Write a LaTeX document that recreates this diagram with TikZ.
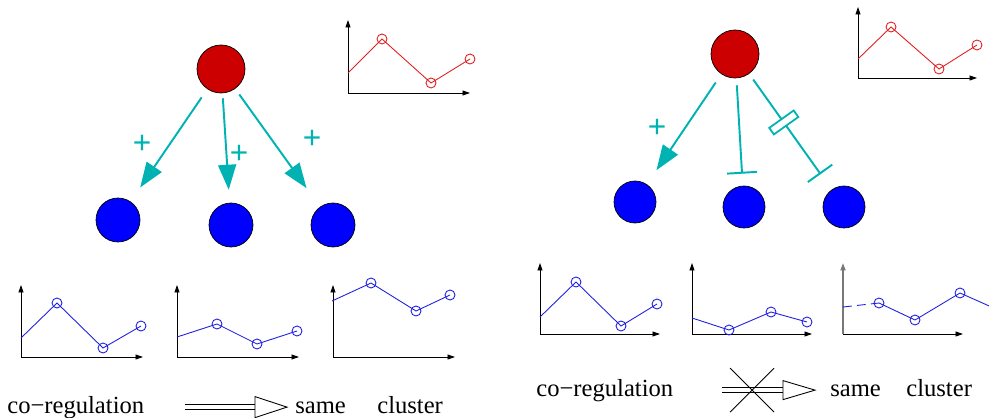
\documentclass[tikz,border=0pt]{standalone}
\usepackage{fontspec}
\setmainfont{Liberation Serif}
\newfontfamily\plusfont{Liberation Sans}
\usetikzlibrary{arrows.meta,calc}
\definecolor{RegRed}{RGB}{204,0,0}
\definecolor{GeneBlue}{RGB}{0,0,255}
\definecolor{EdgeTeal}{RGB}{0,178,178}
\definecolor{CurveRed}{RGB}{225,30,30}
\definecolor{CurveBlue}{RGB}{30,30,225}
\definecolor{AxisGray}{RGB}{120,120,120}

\tikzset{
  regnode/.style={circle, draw=black, fill=RegRed, minimum size=0.96cm, inner sep=0pt},
  genenode/.style={circle, draw=black, fill=GeneBlue, minimum size=0.88cm, inner sep=0pt},
  activ/.style={EdgeTeal, line width=1.1pt, -{Triangle[length=5mm,width=3.6mm]}},
  repress/.style={EdgeTeal, line width=1.1pt, -{Bar[width=6mm]}},
  plus/.style={EdgeTeal, font=\plusfont\fontsize{18}{18}\selectfont, inner sep=0pt},
  axis/.style={black, line width=0.5pt, -{Triangle[length=1.5mm,width=1mm]}},
  curve/.style={line width=0.5pt},
  word/.style={font=\fontsize{14}{17}\selectfont, anchor=base west, inner sep=0pt},
  shaft/.style={double, double distance=0.08cm, line width=0.5pt},
  openhead/.style={fill=white, draw=black, line width=0.5pt},
}

\begin{document}
\begin{tikzpicture}[x=0.02cm, y=-0.02cm]
\useasboundingbox (0,0) rectangle (989,418);

% left: all positive regulation
\node[regnode] (regL) at (221,69) {};
\node[genenode] (geneL1) at (118,220) {};
\node[genenode] (geneL2) at (231,225) {};
\node[genenode] (geneL3) at (333,225) {};
\draw[activ, shorten <=0.2cm, shorten >=0.34cm] (regL) -- (geneL1);
\draw[activ, shorten <=0.1cm, shorten >=0.26cm] (regL) -- (geneL2);
\draw[activ, shorten <=0.14cm, shorten >=0.46cm] (regL) -- (geneL3);
\node[plus] (plusL1) at (142,144) {+};
\node[plus] (plusL2) at (239,154) {+};
\node[plus] (plusL3) at (312,139) {+};

% regulator profile
\draw[axis] (348,93) -- (348,20);
\draw[axis] (348,93) -- (470,93);
\draw[curve, CurveRed] (348,73) -- (382,39) -- (431,83) -- (470,59);
\foreach \x/\y in {382/39,431/83,470/59}
  \draw[curve, CurveRed] (\x,\y) circle[radius=0.1cm];

% target profiles
\draw[axis] (21,357) -- (21,285);
\draw[axis] (21,357) -- (143,357);
\draw[curve, CurveBlue] (21,338) -- (57,303) -- (103,348) -- (141,326);
\foreach \x/\y in {57/303,103/348,141/326}
  \draw[curve, CurveBlue] (\x,\y) circle[radius=0.1cm];

\draw[axis] (177,357) -- (177,285);
\draw[axis] (177,357) -- (299,357);
\draw[curve, CurveBlue] (177,337) -- (217,324) -- (257,344) -- (297,331);
\foreach \x/\y in {217/324,257/344,297/331}
  \draw[curve, CurveBlue] (\x,\y) circle[radius=0.1cm];

\draw[axis] (333,357) -- (333,285);
\draw[axis] (333,357) -- (455,357);
\draw[curve, CurveBlue] (332,301) -- (371,283) -- (416,311) -- (450,295);
\foreach \x/\y in {371/283,416/311,450/295}
  \draw[curve, CurveBlue] (\x,\y) circle[radius=0.1cm];

\node[word] (coregL) at (7,413) {co−regulation};
\node[word] (sameL) at (295,413) {same};
\node[word] (clusterL) at (377,413) {cluster};
\coordinate (tipL) at ($(coregL.east -| sameL.west)+(-8,0)$);
\coordinate (backL) at ($(tipL)+(-32,0)$);
\draw[shaft, shorten <=0.8cm] (coregL.east |- tipL) -- (backL);
\draw[openhead] (tipL) -- ($(backL)+(0,-10.5)$) -- ($(backL)+(0,10.5)$) -- cycle;

% right: mixed regulation
\node[regnode] (regR) at (735,54) {};
\node[genenode, minimum size=0.84cm] (geneR1) at (635,202) {};
\node[genenode, minimum size=0.84cm] (geneR2) at (744,207) {};
\node[genenode, minimum size=0.84cm] (geneR3) at (844,207) {};
\draw[activ, shorten <=0.2cm, shorten >=0.34cm] (regR) -- (geneR1);
\draw[repress, shorten <=0.14cm, shorten >=0.24cm] (regR) -- (geneR2);
\draw[repress, shorten <=0.14cm, shorten >=0.38cm] (regR) -- (geneR3)
  node[pos=0.42, sloped, draw=EdgeTeal, fill=white, line width=1pt,
       minimum width=0.16cm, minimum height=0.6cm, inner sep=0pt] (delay) {};
\node[plus] (plusR1) at (657,128) {+};

% regulator profile
\draw[axis] (858,78) -- (858,7);
\draw[axis] (858,78) -- (977,78);
\draw[curve, CurveRed] (858,59) -- (891,27) -- (939,69) -- (977,45);
\foreach \x/\y in {891/27,939/69,977/45}
  \draw[curve, CurveRed] (\x,\y) circle[radius=0.1cm];

% target profiles
\draw[axis] (540,334) -- (540,263);
\draw[axis] (540,334) -- (660,334);
\draw[curve, CurveBlue] (540,317) -- (576,282) -- (621,326) -- (657,304);
\foreach \x/\y in {576/282,621/326,657/304}
  \draw[curve, CurveBlue] (\x,\y) circle[radius=0.1cm];

\draw[axis] (692,334) -- (692,263);
\draw[axis] (692,334) -- (812,334);
\draw[curve, CurveBlue] (692,318) -- (729,330) -- (771,312) -- (807,322);
\foreach \x/\y in {729/330,771/312,807/322}
  \draw[curve, CurveBlue] (\x,\y) circle[radius=0.1cm];

\draw[axis, AxisGray, line width=1pt] (843,334) -- (843,263);
\draw[axis] (843,334) -- (963,334);
\draw[curve, CurveBlue, dash pattern=on 5pt off 3pt] (843,307) -- (879,303);
\draw[curve, CurveBlue] (879,303) -- (915,320) -- (960,293) -- (996,309);
\foreach \x/\y in {879/303,915/320,960/293}
  \draw[curve, CurveBlue] (\x,\y) circle[radius=0.1cm];

\node[word] (coregR) at (536,396) {co−regulation};
\node[word] (sameR) at (830,396) {same};
\node[word] (clusterR) at (906,396) {cluster};
\coordinate (tipR) at ($(coregR.east -| sameR.west)+(-15,0)$);
\coordinate (backR) at ($(tipR)+(-32,0)$);
\draw[shaft, shorten <=0.96cm] (coregR.east |- tipR) -- (backR);
\draw[openhead] (tipR) -- ($(backR)+(0,-9.5)$) -- ($(backR)+(0,9.5)$) -- cycle;
\coordinate (crossR) at ($(backR)+(-31,0)$);
\draw[line width=0.5pt] ($(crossR)+(-22,-22)$) -- ($(crossR)+(22,22)$);
\draw[line width=0.5pt] ($(crossR)+(22,-22)$) -- ($(crossR)+(-22,22)$);
\end{tikzpicture}
\end{document}
